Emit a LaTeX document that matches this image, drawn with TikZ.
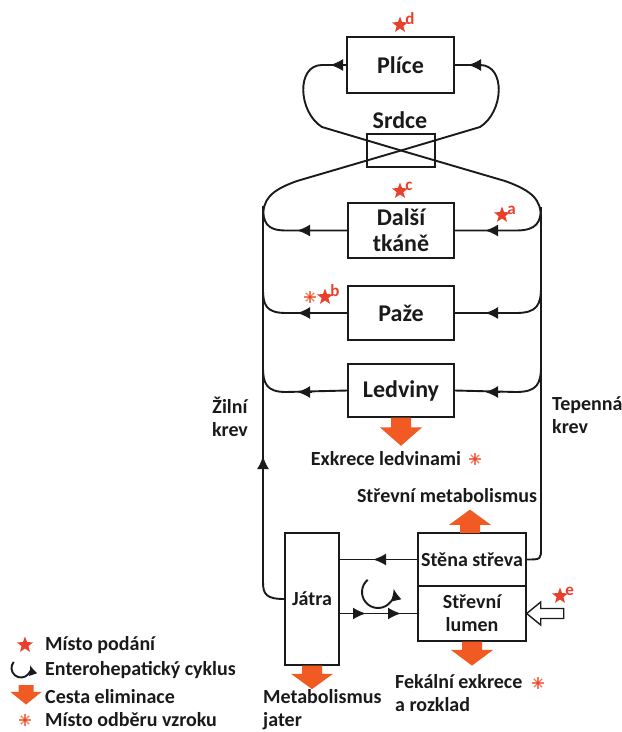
\documentclass[tikz,border=0pt]{standalone}
\usepackage{fontspec}
\setmainfont{Carlito}
\usetikzlibrary{arrows.meta,shapes.geometric,positioning}
\definecolor{ink}{HTML}{1A1A1A}
\definecolor{flame}{HTML}{F15A22}
\definecolor{starred}{HTML}{E8402A}
\definecolor{spot}{HTML}{F47C5E}

\tikzset{
  organ/.style={draw=ink, line width=1.4pt, inner sep=0pt, align=center, text=ink,
    font=\fontsize{24}{26}\selectfont\bfseries},
  gut/.style={organ, font=\fontsize{20}{23}\selectfont\bfseries},
  flow/.style={draw=ink, line width=1.9pt},
  head/.style={flow, -{Latex[length=13pt,width=12pt]}},
  lbl/.style={text=ink, inner sep=0pt, font=\fontsize{20}{23}\selectfont\bfseries},
  given/.style={star, star points=5, star point ratio=2.4, fill=starred, draw=none,
    inner sep=0pt, minimum size=17pt},
  letter/.style={text=starred, inner sep=0pt, font=\fontsize{17}{17}\selectfont\bfseries},
  pics/elim/.style={code={
    \fill[flame] (-10,0) -- (-10,9) -- (-21,9) -- (0,26) -- (21,9) -- (10,9) -- (10,0) -- cycle;}},
  pics/spot/.style={code={
    \foreach \a in {0,45,90,135} \draw[spot, line width=1.2pt] (\a:6) -- (\a+180:6);
    \fill[starred] (0,0) circle[radius=1.8];}},
}

\begin{document}
\begin{tikzpicture}[x=1pt,y=-1pt]
  \useasboundingbox (0,0) rectangle (622,732);

  % organs
  \node[organ, minimum width=107pt, minimum height=56pt] (plice) at (400.5,65) {Plíce};
  \node[organ, minimum width=68pt, minimum height=33pt] (srdce) at (401,150.5) {};
  \node[organ, draw=none] (srdcelbl) at (400,120) {Srdce};
  \node[organ, minimum width=106pt, minimum height=55pt] (dalsi) at (401,230.5) {Další\\tkáně};
  \node[organ, minimum width=106pt, minimum height=54pt] (paze) at (401,313) {Paže};
  \node[organ, minimum width=106pt, minimum height=53pt] (ledviny) at (401,390.5) {Ledviny};
  \node[gut, minimum width=54pt, minimum height=132pt] (jatra) at (312,599) {Játra};
  \node[gut, minimum width=108pt, minimum height=53pt] (stena) at (472,559.5) {Stěna střeva};
  \node[gut, minimum width=108pt, minimum height=55pt] (lumen) at (472,613.5) {Střevní\\lumen};

  % lungs -> heart -> arteries
  \draw[flow] (plice.west) -- (322,65) .. controls (296,65) and (298,112) .. (322,127)
    -- (srdce.center) -- (505,181) .. controls (533,191) and (541,200) .. (541,218)
    -- (541,548) .. controls (541,559.5) .. (stena.east);
  % veins -> heart -> lungs
  \draw[flow] (jatra.west) .. controls (266,599) and (263,594) .. (263,582)
    -- (263,218) .. controls (263,200) and (269,191) .. (297,181)
    -- (srdce.center) -- (480,127) .. controls (504,112) and (506,65) .. (480,65) -- (plice.east);
  \draw[head] (344,65) -- (330,65);
  \draw[head] (482,65) -- (468,65);
  \draw[head] (263,472) -- (263,456);

  % branches to the venous side
  \draw[flow] (dalsi.west) -- (286,230.5) .. controls (266,230.5) and (263,222) .. (263,206);
  \draw[flow] (paze.west) -- (286,313) .. controls (266,313) and (263,305) .. (263,289);
  \draw[flow] (ledviny.west) -- (286,392) .. controls (266,392) and (263,383) .. (263,367);
  \foreach \y in {230.5,313,392} \draw[head] (312,\y) -- (297,\y);
  % branches from the arterial side
  \draw[flow] (541,207) .. controls (541,222) and (537,230.5) .. (516,230.5) -- (dalsi.east);
  \draw[flow] (541,287) .. controls (541,305) and (537,313) .. (516,313) -- (paze.east);
  \draw[flow] (541,366) .. controls (541,384) and (537,392) .. (516,392) -- (ledviny.east);
  \foreach \y in {230.5,313,392} \draw[head] (500,\y) -- (485,\y);

  % gut and liver
  \draw[flow] (stena.west) -- (stena.west -| jatra.east);
  \draw[head] (388,559.5) -- (373,559.5);
  \draw[flow] (jatra.east |- lumen.west) -- (lumen.west);
  \draw[head] (351,613.5) -- (366,613.5);
  \draw[head] (386,613.5) -- (401,613.5);
  \draw[flow, -{Latex[length=12pt,width=11pt]}] (378,592) ++(-130:16) arc[start angle=-130, end angle=-372, radius=16];
  \draw[ink, line width=1.4pt, fill=white] (lumen.east) -- ++(14,-11.5) -- ++(0,6.5) -- ++(23,0)
    -- ++(0,10) -- ++(-23,0) -- ++(0,6.5) -- cycle;

  % elimination
  \pic at (ledviny.south) [yscale=1.08] {elim};
  \pic at (lumen.south) [yscale=0.92] {elim};
  \pic at (jatra.south) [yscale=0.9] {elim};
  \pic at (470,533) [rotate=180, yscale=0.9] {elim};

  % labels
  \node[lbl] (exkrece) at (386,459) {Exkrece ledvinami};
  \node[lbl] (strmetab) at (447,496) {Střevní metabolismus};
  \node[lbl, anchor=west, align=left] (fekal) at (395,693) {Fekální exkrece\\a rozklad};
  \node[lbl, anchor=west, align=left] (jatmetab) at (263,710) {Metabolismus\\jater};
  \node[lbl, align=center] (zilni) at (230,417) {Žilní\\krev};
  \node[lbl, anchor=west, align=left] (tepenna) at (552,415) {Tepenná\\krev};

  % dosing sites and sampling sites
  \node[given] (dstar) at (400,25) {};
  \node[letter, anchor=south west] at (dstar.east) {d};
  \node[given] (cstar) at (400,191) {};
  \node[letter, anchor=south west] at (cstar.east) {c};
  \node[given] (astar) at (502,215) {};
  \node[letter, anchor=south west] at (astar.east) {a};
  \node[given] (bstar) at (325,297) {};
  \node[letter, anchor=south west] at (bstar.east) {b};
  \node[given] (estar) at (560,596) {};
  \node[letter, anchor=south west] at (estar.east) {e};
  \pic at (310,297) {spot};
  \pic at (475,459) {spot};
  \pic at (538,683) {spot};

  % legend
  \node[given] (legstar) at (25,645) {};
  \node[lbl, anchor=west] (legdose) at (45,645) {Místo podání};
  \draw[flow, -{Latex[length=10pt,width=9pt]}] (21,668) ++(-140:9.5) arc[start angle=-140, end angle=-378, radius=9.5];
  \node[lbl, anchor=west] (legcyc) at (45,670) {Enterohepatický cyklus};
  \pic at (26,685) [scale=0.75] {elim};
  \node[lbl, anchor=west] (legelim) at (45,697) {Cesta eliminace};
  \pic at (25,720) {spot};
  \node[lbl, anchor=west] (legspot) at (45,720) {Místo odběru vzroku};
\end{tikzpicture}
\end{document}
